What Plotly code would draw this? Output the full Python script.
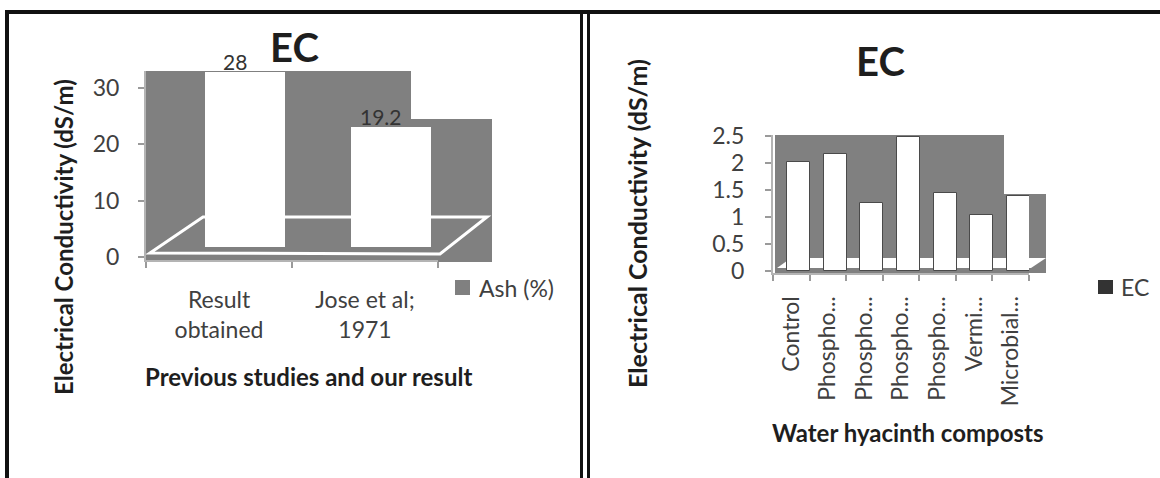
import plotly.graph_objects as go

# ---------------- data ----------------
left_categories = ["Result<br>obtained", "Jose et al;<br>1971"]
left_values = [28, 19.2]
left_value_labels = ["28", "19.2"]
left_series_name = "Ash (%)"
left_yticks = [0, 10, 20, 30]
left_title = "EC"
left_xtitle = "Previous studies and our result"
left_ytitle = "Electrical Conductivity (dS/m)"

right_categories = ["Control", "Phospho...", "Phospho...", "Phospho...",
                    "Phospho...", "Vermi...", "Microbial..."]
right_values = [2.02, 2.17, 1.26, 2.48, 1.44, 1.04, 1.39]
right_series_name = "EC"
right_yticks = [0, 0.5, 1, 1.5, 2, 2.5]
right_title = "EC"
right_xtitle = "Water hyacinth composts"
right_ytitle = "Electrical Conductivity (dS/m)"

# ---------------- helpers ----------------
W, H = 1160, 478
FONT = "Lato"
GREY = "#808080"
TICK_COL = "#404040"
TITLE_COL = "#1e1e1e"


def px(x):
    return x / W


def py(y):
    return 1 - y / H


left_x = list(range(len(left_categories)))
right_x = list(range(len(right_categories)))

fig = go.Figure()

# left bars: on a value axis (y) that mimics the 3D depth offset of the
# original chart; the visible tick axis (y3) overlays it
fig.add_trace(go.Bar(
    x=left_x, y=left_values, xaxis="x", yaxis="y",
    width=0.548, offset=-0.096,
    marker=dict(color="#ffffff", line=dict(width=0)),
    name=left_series_name, showlegend=False, hoverinfo="y",
))
# empty trace so that the overlaying tick axis is rendered
fig.add_trace(go.Scatter(x=[None], y=[None], xaxis="x", yaxis="y3",
                         mode="markers", showlegend=False, hoverinfo="skip"))

# right bars
fig.add_trace(go.Bar(
    x=right_x, y=right_values, xaxis="x2", yaxis="y2",
    width=0.63, offset=-0.11,
    marker=dict(color="#ffffff", line=dict(width=1, color="#4a4a4a")),
    name=right_series_name, showlegend=False, hoverinfo="y",
))

tickfont = dict(family=FONT, size=23, color=TICK_COL)
axis_common = dict(showgrid=False, zeroline=False, showline=True,
                   linecolor="#b4b4b4", linewidth=2, automargin=False,
                   tickfont=tickfont)

LEFT_DOMAIN = [py(260), py(71)]

fig.update_layout(
    template="none",
    width=W, height=H, autosize=False,
    margin=dict(l=0, r=0, t=0, b=0, pad=0),
    paper_bgcolor="#ffffff", plot_bgcolor="rgba(0,0,0,0)",
    showlegend=False, bargap=0,
    xaxis=dict(
        domain=[px(146), px(438)], range=[-0.5, len(left_categories) - 0.5],
        anchor="y", tickmode="array", tickvals=left_x, ticktext=left_categories,
        ticks="", ticklabelstandoff=18,
        minor=dict(tickmode="array",
                   tickvals=[i - 0.5 for i in range(len(left_categories) + 1)],
                   ticks="outside", ticklen=6, tickcolor="#9a9a9a", tickwidth=2),
        **axis_common,
    ),
    yaxis=dict(domain=LEFT_DOMAIN, anchor="x", range=[-2.08, 28.16],
               visible=False, automargin=False),
    yaxis3=dict(
        domain=LEFT_DOMAIN, overlaying="y", anchor="x", side="left",
        range=[-0.53, 33.04],
        tickmode="array", tickvals=left_yticks,
        ticks="outside", ticklen=6, tickcolor="#9a9a9a", tickwidth=2,
        ticklabelstandoff=14,
        **axis_common,
    ),
    xaxis2=dict(
        domain=[px(773), px(1029)], range=[-0.5, len(right_categories) - 0.5],
        anchor="y2", tickmode="array", tickvals=right_x, ticktext=right_categories,
        tickangle=-90, ticks="", ticklabelstandoff=12,
        minor=dict(tickmode="array",
                   tickvals=[i - 0.5 for i in range(len(right_categories) + 1)],
                   ticks="outside", ticklen=6, tickcolor="#9a9a9a", tickwidth=2),
        **axis_common,
    ),
    yaxis2=dict(
        domain=[py(273), py(135)], range=[-0.037, 2.519], anchor="x2",
        tickmode="array", tickvals=right_yticks,
        ticks="outside", ticklen=6, tickcolor="#9a9a9a", tickwidth=2,
        ticklabelstandoff=16,
        **axis_common,
    ),
)

# ---------------- decorative shapes ----------------
shapes = []


def rect(x0, y0, x1, y1, color, layer="below"):
    shapes.append(dict(type="rect", xref="paper", yref="paper",
                       x0=px(x0), x1=px(x1), y0=py(y1), y1=py(y0),
                       fillcolor=color, line=dict(width=0), layer=layer))


def path(points, color, width=0, fill=None, layer="below"):
    d = "M " + " L ".join(f"{px(a)},{py(b)}" for a, b in points) + " Z"
    shapes.append(dict(type="path", xref="paper", yref="paper", path=d,
                       fillcolor=fill if fill else "rgba(0,0,0,0)",
                       line=dict(width=width, color=color), layer=layer))


def line(x0, y0, x1, y1, color, width, layer="above"):
    shapes.append(dict(type="line", xref="paper", yref="paper",
                       x0=px(x0), x1=px(x1), y0=py(y0), y1=py(y1),
                       line=dict(color=color, width=width), layer=layer))


# grey back walls
rect(146, 71, 411, 260, GREY)
rect(411, 119, 492, 262, GREY)
rect(775, 135, 1004, 273, GREY)
rect(1004, 194, 1046, 273, GREY)

# floors
path([(150, 253), (203, 217), (487, 217), (440, 254)], "#ffffff", width=3)
path([(777, 268), (791, 258), (1046, 258), (1031, 268)], "#ffffff", width=0, fill="#ffffff")

# legend swatches
rect(455, 280, 470, 295, GREY, layer="above")
rect(1098, 280, 1113, 294, "#333333", layer="above")

# frame lines
line(7, 12, 7, 478, "#111111", 4)
line(5, 12, 1160, 12, "#111111", 4)
line(581.5, 12, 581.5, 478, "#111111", 3)
line(588.5, 12, 588.5, 478, "#111111", 3)

fig.update_layout(shapes=shapes)

# ---------------- text ----------------
ann = []


def text(x, y, s, size, bold=False, angle=0, color=TITLE_COL, xanchor="center"):
    ann.append(dict(xref="paper", yref="paper", x=px(x), y=py(y),
                    text=f"<b>{s}</b>" if bold else s, showarrow=False,
                    textangle=angle, xanchor=xanchor, yanchor="middle",
                    font=dict(family=FONT, size=size, color=color)))


text(294, 47, left_title, 40, bold=True)
text(880, 61, right_title, 40, bold=True)
text(63, 237, left_ytitle, 24, bold=True, angle=-90)
text(637, 224, right_ytitle, 25, bold=True, angle=-90)
text(308, 376, left_xtitle, 24, bold=True)
text(907, 432, right_xtitle, 24, bold=True)
text(477, 288, left_series_name, 23, color=TICK_COL, xanchor="left")
text(1119, 287, right_series_name, 23, color=TICK_COL, xanchor="left")

# value labels on the left bars
for xi, v, lab in zip(left_x, left_values, left_value_labels):
    ann.append(dict(xref="x", yref="y", x=xi, y=v, text=lab, showarrow=False,
                    xanchor="center", yanchor="bottom", xshift=16, yshift=-4,
                    font=dict(family=FONT, size=21, color="#333333")))

fig.update_layout(annotations=ann)

fig.write_html(
    "out.html",
    config={"displayModeBar": False},
    post_script="document.body.style.margin='0';document.body.style.padding='0';",
)
